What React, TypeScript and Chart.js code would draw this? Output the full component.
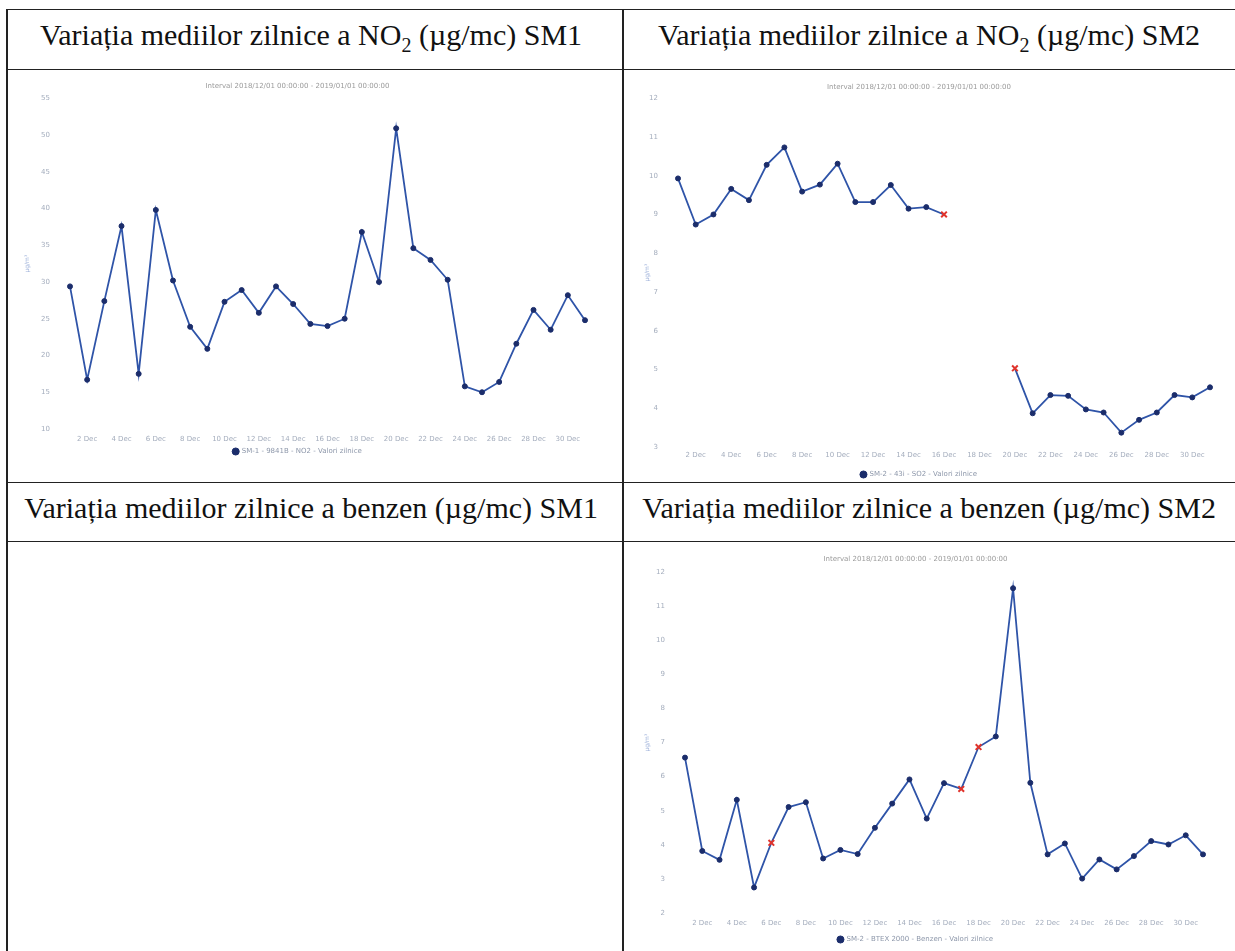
import React, { useEffect, useRef } from 'react';
import { Chart, registerables } from 'chart.js';

Chart.register(...registerables);

const dayLabels = [
  '1 Dec', '2 Dec', '3 Dec', '4 Dec', '5 Dec', '6 Dec', '7 Dec', '8 Dec', '9 Dec', '10 Dec',
  '11 Dec', '12 Dec', '13 Dec', '14 Dec', '15 Dec', '16 Dec', '17 Dec', '18 Dec', '19 Dec', '20 Dec',
  '21 Dec', '22 Dec', '23 Dec', '24 Dec', '25 Dec', '26 Dec', '27 Dec', '28 Dec', '29 Dec', '30 Dec', '31 Dec',
];

const no2Sm1 = [
  29.4, 16.7, 27.4, 37.6, 17.5, 39.8, 30.2, 23.9, 20.9, 27.3,
  28.9, 25.8, 29.4, 27.0, 24.3, 24.0, 25.0, 36.8, 30.0, 50.9,
  34.6, 33.0, 30.3, 15.8, 15.0, 16.4, 21.6, 26.2, 23.5, 28.2, 24.8,
];
const no2Sm1Flagged: number[] = [];

const no2Sm2 = [
  9.93, 8.74, 9.0, 9.66, 9.37, 10.28, 10.73, 9.59, 9.77, 10.31,
  9.32, 9.32, 9.76, 9.15, 9.19, 9.0, null, null, null, 5.03,
  3.87, 4.34, 4.32, 3.97, 3.89, 3.37, 3.7, 3.89, 4.34, 4.28, 4.54,
];
const no2Sm2Flagged = [15, 19];

const benzenSm2 = [
  6.56, 3.82, 3.56, 5.32, 2.75, 4.06, 5.11, 5.25, 3.6, 3.85,
  3.73, 4.5, 5.21, 5.92, 4.77, 5.81, 5.64, 6.87, 7.18, 11.53,
  5.82, 3.72, 4.04, 3.01, 3.57, 3.28, 3.67, 4.11, 4.01, 4.28, 3.72,
];
const benzenSm2Flagged = [5, 16, 17];

const chartTitle = 'Interval 2018/12/01 00:00:00 - 2019/01/01 00:00:00';
const legendSm1 = 'SM-1 - 9841B - NO2 - Valori zilnice';
const legendSm2 = 'SM-2 - 43i - SO2 - Valori zilnice';
const legendBenzen = 'SM-2 - BTEX 2000 - Benzen - Valori zilnice';
const yUnit = 'µg/m³';

const FONT = '"DejaVu Sans", sans-serif';
const LINE = '#2f54a8';
const MARK = '#1b2d6b';
const FLAG = '#e0342c';
const TICK = '#a4adbd';

type Cfg = {
  values: (number | null)[];
  flagged: number[];
  legend: string;
  yMin: number;
  yMax: number;
  step: number;
  yWidth: number;
  padRight: number;
  titleBottom: number;
  xPad: number;
  legendPad: number;
  unitPad: number;
};

function LineChart(props: Cfg & { style: React.CSSProperties }) {
  const ref = useRef<HTMLCanvasElement | null>(null);
  useEffect(() => {
    if (!ref.current) return;
    const pointStyle = props.values.map((_, i) => (props.flagged.includes(i) ? 'crossRot' : 'circle'));
    const pointColor = props.values.map((_, i) => (props.flagged.includes(i) ? FLAG : MARK));
    const pointRadius = props.values.map((_, i) => (props.flagged.includes(i) ? 4 : 2.5));
    const pointBorderWidth = props.values.map((_, i) => (props.flagged.includes(i) ? 2 : 1));
    const chart = new Chart(ref.current, {
      type: 'line',
      data: {
        labels: dayLabels,
        datasets: [
          {
            label: props.legend,
            data: props.values,
            borderColor: LINE,
            borderWidth: 1.8,
            backgroundColor: MARK,
            pointStyle: pointStyle as any,
            pointBackgroundColor: pointColor,
            pointBorderColor: pointColor,
            pointRadius: pointRadius,
            pointBorderWidth: pointBorderWidth,
            spanGaps: false,
            tension: 0,
          },
        ],
      },
      options: {
        animation: false,
        responsive: false,
        maintainAspectRatio: false,
        layout: { padding: { top: 0, left: 0, right: props.padRight, bottom: 0 } },
        plugins: {
          title: {
            display: true,
            text: chartTitle,
            color: '#9a9a9a',
            font: { family: FONT, size: 7, weight: 'normal' },
            padding: { top: 5, bottom: props.titleBottom },
          },
          legend: {
            display: true,
            position: 'bottom',
            labels: {
              usePointStyle: true,
              pointStyle: 'circle',
              boxWidth: 5,
              boxHeight: 5,
              padding: props.legendPad,
              color: '#8d97aa',
              font: { family: FONT, size: 7 },
            },
          },
          tooltip: { enabled: false },
        },
        scales: {
          x: {
            type: 'category',
            offset: false,
            grid: { display: false, drawTicks: false },
            border: { display: false },
            ticks: {
              autoSkip: false,
              maxRotation: 0,
              minRotation: 0,
              padding: props.xPad,
              color: TICK,
              font: { family: FONT, size: 7 },
              callback: (_v: any, i: number) => (i % 2 === 1 ? dayLabels[i] : ''),
            },
            afterFit: (s: any) => {
              s.height = 16;
            },
          },
          y: {
            min: props.yMin,
            max: props.yMax,
            grid: { display: false, drawTicks: false },
            border: { display: false },
            ticks: {
              stepSize: props.step,
              padding: 20,
              color: TICK,
              font: { family: FONT, size: 7 },
            },
            title: {
              display: true,
              text: yUnit,
              color: '#9fb2da',
              font: { family: FONT, size: 6 },
              padding: { top: props.unitPad, bottom: 0 },
            },
            afterFit: (s: any) => {
              s.width = props.yWidth;
            },
          },
        },
      },
    });
    return () => chart.destroy();
  }, []);
  const w = props.style.width as number;
  const h = props.style.height as number;
  return <canvas ref={ref} width={w} height={h} style={{ position: 'absolute', ...props.style }} />;
}

const headerStyle: React.CSSProperties = {
  position: 'absolute',
  fontFamily: '"Liberation Serif", "Times New Roman", serif',
  fontSize: 30,
  color: '#111',
  textAlign: 'center',
  lineHeight: '36px',
  whiteSpace: 'nowrap',
};

function Header(props: { left: number; top: number; width: number; children: React.ReactNode }) {
  return (
    <div style={{ ...headerStyle, left: props.left, top: props.top, width: props.width }}>{props.children}</div>
  );
}

function HLine(props: { top: number; left: number; width: number }) {
  return <div style={{ position: 'absolute', top: props.top, left: props.left, width: props.width, height: 1.5, background: '#222' }} />;
}
function VLine(props: { top: number; left: number; height: number; w?: number }) {
  return <div style={{ position: 'absolute', top: props.top, left: props.left, width: props.w ?? 1.5, height: props.height, background: '#222' }} />;
}

export default function App() {
  return (
    <div style={{ position: 'absolute', left: 0, top: 0, width: 1235, height: 951, overflow: 'hidden', background: '#fff' }}>
      <HLine top={8.5} left={6} width={1229} />
      <HLine top={68.5} left={6} width={1229} />
      <HLine top={481.5} left={6} width={1229} />
      <HLine top={540.5} left={6} width={1229} />
      <VLine top={8.5} left={5.5} height={943} w={2} />
      <VLine top={8.5} left={622} height={943} />

      <Header left={6} top={17} width={610}>
        Variația mediilor zilnice a NO<sub style={{ fontSize: 20, lineHeight: 0 }}>2</sub> (µg/mc) SM1
      </Header>
      <Header left={623} top={17} width={612}>
        Variația mediilor zilnice a NO<sub style={{ fontSize: 20, lineHeight: 0 }}>2</sub> (µg/mc) SM2
      </Header>
      <Header left={6} top={490} width={610}>
        Variația mediilor zilnice a benzen (µg/mc) SM1
      </Header>
      <Header left={623} top={490} width={612}>
        Variația mediilor zilnice a benzen (µg/mc) SM2
      </Header>

      <LineChart
        style={{ left: 10, top: 74, width: 608, height: 391 }}
        values={no2Sm1}
        flagged={no2Sm1Flagged}
        legend={legendSm1}
        yMin={10}
        yMax={55}
        step={5}
        yWidth={60}
        padRight={33}
        titleBottom={8}
        xPad={6}
        legendPad={3}
        unitPad={14}
      />
      <LineChart
        style={{ left: 628, top: 74, width: 600, height: 414 }}
        values={no2Sm2}
        flagged={no2Sm2Flagged}
        legend={legendSm2}
        yMin={3}
        yMax={12}
        step={1}
        yWidth={50}
        padRight={18}
        titleBottom={7}
        xPad={4}
        legendPad={8}
        unitPad={16}
      />
      <LineChart
        style={{ left: 628, top: 548, width: 600, height: 405 }}
        values={benzenSm2}
        flagged={benzenSm2Flagged}
        legend={legendBenzen}
        yMin={2}
        yMax={12}
        step={1}
        yWidth={57}
        padRight={25}
        titleBottom={9}
        xPad={6}
        legendPad={7}
        unitPad={16}
      />
    </div>
  );
}
